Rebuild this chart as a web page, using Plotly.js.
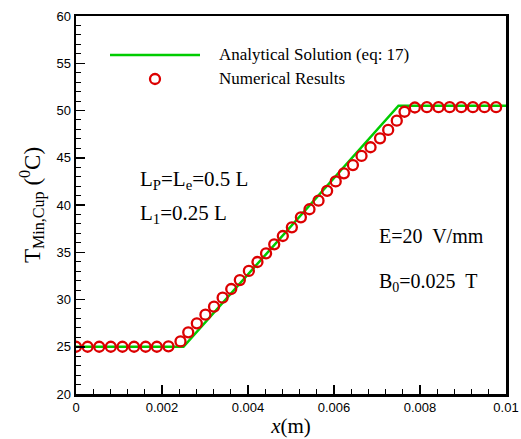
<!DOCTYPE html>
<html>
<head>
<meta charset="utf-8">
<script src="https://cdn.plot.ly/plotly-3.0.1.min.js"></script>
<style>html,body{margin:0;padding:0;background:#fff;}#chart{width:521px;height:439px;}</style>
</head>
<body>
<div id="chart"></div>
<script>
// Analytical solution (eq: 17)
const analyticX = [0, 0.0025, 0.0075, 0.01];
const analyticT = [25, 25, 50.5, 50.5];

// Numerical results
const numX = [0, 0.00027, 0.00054, 0.00081, 0.00108, 0.00135, 0.00162, 0.00188, 0.00215,
  0.00243, 0.00261, 0.00281, 0.00301, 0.00321, 0.00341, 0.00361, 0.00381, 0.00402, 0.00422,
  0.00442, 0.00461, 0.00481, 0.00502, 0.00523, 0.00543, 0.00564, 0.00584, 0.00604, 0.00623,
  0.00644, 0.00664, 0.00685, 0.00707, 0.00726, 0.00746, 0.00764,
  0.00788, 0.00816, 0.00843, 0.00869, 0.00896, 0.00923, 0.00950, 0.00977];
const numT = [25.0, 25.0, 25.0, 25.0, 25.0, 25.0, 25.0, 25.0, 25.05,
  25.56, 26.53, 27.48, 28.39, 29.24, 30.19, 31.11, 32.06, 33.02, 33.97,
  34.89, 35.84, 36.72, 37.64, 38.70, 39.55, 40.46, 41.5, 42.5, 43.35,
  44.23, 45.19, 46.11, 47.06, 47.94, 48.92, 49.87,
  50.32, 50.35, 50.35, 50.35, 50.35, 50.35, 50.35, 50.35];

const xTicks = [0, 0.002, 0.004, 0.006, 0.008, 0.01];
const xTickLabels = ['0', '0.002', '0.004', '0.006', '0.008', '0.01'];
const yTicks = [20, 25, 30, 35, 40, 45, 50, 55, 60];

const legendNames = ['Analytical Solution (eq: 17)', 'Numerical Results'];
const notes = ['L<sub>P</sub>=L<sub>e</sub>=0.5 L', 'L<sub>1</sub>=0.25 L', 'E=20  V/mm', 'B<sub>0</sub>=0.025  T'];

const green = 'rgb(0,204,0)';
const red = 'rgb(220,0,0)';
const serif = 'Liberation Serif, Times New Roman, serif';
const sans = 'Liberation Sans, Arial, sans-serif';

const traces = [
  {x: analyticX, y: analyticT, mode: 'lines', name: legendNames[0],
   line: {color: green, width: 2.5}, showlegend: false},
  {x: numX, y: numT, mode: 'markers', name: legendNames[1],
   marker: {symbol: 'circle-open', size: 10, color: red, line: {color: red, width: 2.3}}, showlegend: false}
];

const axisCommon = {
  showgrid: false, zeroline: false, showline: true, linecolor: '#000', linewidth: 2.5,
  mirror: true, ticks: 'inside', tickcolor: '#000', tickwidth: 1.5, ticklen: 9,
  tickfont: {family: sans, size: 13, color: '#000'}
};

const layout = {
  width: 521, height: 439,
  margin: {l: 76, r: 15, t: 16, b: 45},
  paper_bgcolor: '#fff', plot_bgcolor: '#fff',
  showlegend: false,
  xaxis: Object.assign({}, axisCommon, {
    range: [0, 0.01], tickvals: xTicks, ticktext: xTickLabels,
    minor: {ticks: 'inside', ticklen: 5, tickwidth: 1, tickcolor: '#000', dtick: 0.0004, tick0: 0},
    title: {text: '<i>x</i>(m)', font: {family: serif, size: 21, color: '#000'}, standoff: 4}
  }),
  yaxis: Object.assign({}, axisCommon, {
    range: [20, 60], tickvals: yTicks,
    minor: {ticks: 'inside', ticklen: 5, tickwidth: 1, tickcolor: '#000', dtick: 1, tick0: 20},
    title: {text: 'T<sub>Min,Cup</sub> (<sup>0</sup>C)', font: {family: serif, size: 23, color: '#000'}, standoff: 10}
  }),
  shapes: [
    {type: 'line', xref: 'paper', yref: 'paper', x0: (110-76)/430, x1: (200-76)/430,
     y0: (394-55)/378, y1: (394-55)/378, line: {color: green, width: 2.5}},
    {type: 'circle', xref: 'paper', yref: 'paper', xsizemode: 'pixel', ysizemode: 'pixel',
     xanchor: (155-76)/430, yanchor: (394-79)/378, x0: -5, x1: 5, y0: -5, y1: 5,
     line: {color: red, width: 2.3}}
  ],
  annotations: [
    {xref: 'paper', yref: 'paper', x: (217-76)/430, y: (394-55)/378, xanchor: 'left', yanchor: 'middle',
     text: legendNames[0], showarrow: false, font: {family: serif, size: 17, color: '#000'}},
    {xref: 'paper', yref: 'paper', x: (217-76)/430, y: (394-78)/378, xanchor: 'left', yanchor: 'middle',
     text: legendNames[1], showarrow: false, font: {family: serif, size: 17, color: '#000'}},
    {xref: 'paper', yref: 'paper', x: (138-76)/430, y: (394-180)/378, xanchor: 'left', yanchor: 'middle',
     text: notes[0], showarrow: false, font: {family: serif, size: 21, color: '#000'}},
    {xref: 'paper', yref: 'paper', x: (138-76)/430, y: (394-214)/378, xanchor: 'left', yanchor: 'middle',
     text: notes[1], showarrow: false, font: {family: serif, size: 21, color: '#000'}},
    {xref: 'paper', yref: 'paper', x: (377-76)/430, y: (394-236)/378, xanchor: 'left', yanchor: 'middle',
     text: notes[2], showarrow: false, font: {family: serif, size: 20, color: '#000'}},
    {xref: 'paper', yref: 'paper', x: (377-76)/430, y: (394-282)/378, xanchor: 'left', yanchor: 'middle',
     text: notes[3], showarrow: false, font: {family: serif, size: 20, color: '#000'}}
  ]
};

Plotly.newPlot('chart', traces, layout, {displayModeBar: false, staticPlot: true});
</script>
</body>
</html>
